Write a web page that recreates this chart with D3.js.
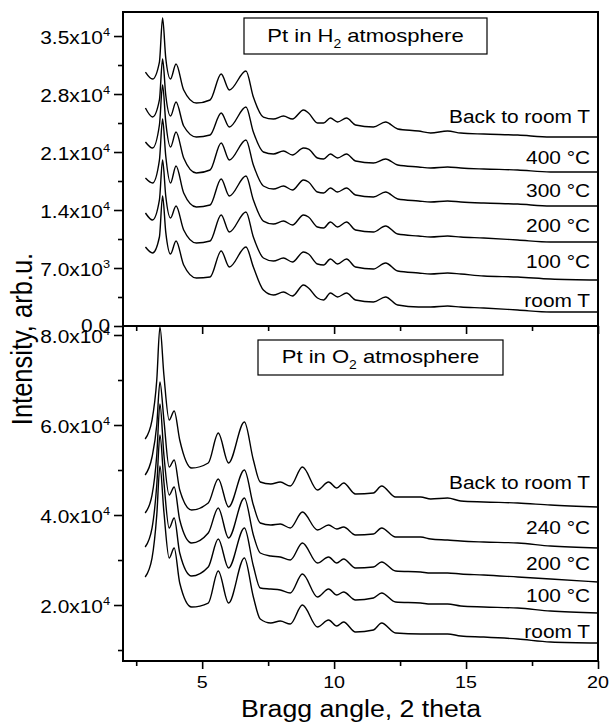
<!DOCTYPE html>
<html>
<head>
<meta charset="utf-8">
<script src="https://cdn.jsdelivr.net/npm/d3@7/dist/d3.min.js"></script>
<style>
  body { margin: 0; background: #fff; }
  svg text { font-family: "Liberation Sans", Arial, sans-serif; fill: #000; }
</style>
</head>
<body>
<svg id="chart" width="611" height="722"></svg>
<script>
// Bragg angle samples (2 theta), H2 panel
const braggTop = [2.85, 3.12, 3.38, 3.5, 3.62, 3.8, 4.01, 4.3, 4.78, 5.3, 5.72, 6.03, 6.66, 6.94, 7.32, 7.7, 8.08, 8.42, 8.84, 9.03, 9.37, 9.6, 9.86, 10.13, 10.47, 10.81, 11.49, 11.95, 12.41, 13.2, 13.66, 14.3, 14.8, 15.67, 16.96, 18.2, 20];

// Pt in H2 atmosphere, intensity (arb.u.)
const h2Back = [30650, 29810, 31860, 37170, 32350, 29810, 31620, 28480, 26910, 27280, 30410, 28480, 30780, 27640, 25220, 24980, 25340, 24980, 26070, 25710, 24500, 24500, 25100, 24620, 25100, 24260, 24020, 24620, 23780, 23530, 23290, 23530, 23290, 23170, 23050, 22810, 22810];
const h2T400 = [26310, 25220, 27280, 32220, 27880, 25340, 27030, 24140, 22810, 23050, 25710, 24020, 26430, 23410, 21000, 20760, 21120, 20640, 21480, 21360, 20280, 20160, 20760, 20280, 20760, 19910, 19670, 20160, 19430, 19190, 19070, 19190, 19070, 18950, 18830, 18590, 18590];
const h2T300 = [22210, 21480, 24260, 29090, 24620, 21600, 23410, 20280, 18470, 18830, 22090, 20030, 22450, 19430, 16900, 16530, 16900, 16410, 17620, 17380, 16170, 16050, 16660, 16170, 16660, 15810, 15570, 16170, 15330, 15090, 14970, 15090, 14970, 14840, 14720, 14480, 14480];
const h2T200 = [17860, 17260, 20030, 24980, 20520, 17260, 19310, 16050, 14360, 14600, 17740, 15690, 18100, 15210, 12670, 12310, 12670, 12190, 13400, 13160, 11950, 11830, 12550, 11950, 12550, 11590, 11340, 12070, 11100, 10860, 10740, 10860, 10740, 10620, 10380, 10140, 10140];
const h2T100 = [13640, 12790, 15210, 20030, 15690, 13030, 14480, 11590, 10020, 10260, 13400, 11340, 13760, 10740, 8210, 7840, 8210, 7720, 8930, 8690, 7480, 7360, 8090, 7480, 8090, 7120, 6880, 7600, 6640, 6400, 6280, 6400, 6280, 6030, 5910, 5670, 5550];
const h2Room = [9530, 8810, 10740, 15690, 11340, 8690, 10260, 7360, 5790, 5910, 9050, 7120, 9530, 7120, 4340, 3740, 4100, 3620, 4950, 4590, 3380, 3140, 3980, 3500, 3980, 3140, 2900, 3500, 2530, 2290, 2290, 2410, 2290, 2170, 1930, 1690, 1690];
const h2Labels = ["Back to room T", "400 °C", "300 °C", "200 °C", "100 °C", "room T"];
const h2LabelY = [24560, 19610, 15630, 11400, 7060, 2350];

// Bragg angle samples, O2 panel
const braggBot = [2.84, 3.1, 3.28, 3.4, 3.55, 3.75, 3.94, 4.15, 4.6, 5.23, 5.61, 6.0, 6.6, 6.94, 7.2, 7.6, 7.96, 8.34, 8.8, 9.37, 9.79, 10.1, 10.36, 10.81, 11.49, 11.8, 12.33, 13.28, 13.66, 14.3, 14.8, 15.67, 16.96, 18.2, 20];

// Pt in O2 atmosphere
const o2Back = [56890, 61110, 70000, 81780, 71110, 61110, 63110, 56670, 50440, 51560, 58220, 51560, 60670, 52220, 47330, 46890, 47330, 46440, 50670, 45560, 47330, 46000, 47110, 44670, 44890, 46440, 44000, 44000, 43560, 43780, 43110, 42890, 42670, 42220, 41780];
const o2T240 = [48890, 52890, 60000, 69560, 61110, 50670, 52220, 45560, 41110, 42670, 48000, 41780, 50000, 42220, 38220, 37780, 38000, 37110, 40670, 36670, 37780, 36890, 37330, 35560, 35780, 37110, 35110, 35110, 34670, 34440, 34220, 34000, 33780, 33110, 32670];
const o2T200 = [40440, 44440, 53330, 64670, 53330, 44440, 46220, 38890, 33780, 36000, 41560, 34890, 43780, 35560, 31560, 30890, 30670, 30000, 33780, 29330, 30670, 29330, 30220, 28220, 28440, 29560, 27560, 27330, 27110, 27110, 26890, 26670, 26220, 25780, 25110];
const o2T100 = [32890, 37110, 46670, 57780, 47330, 37110, 39330, 31560, 26440, 28440, 34670, 28220, 37110, 28670, 23780, 23560, 23330, 22670, 26890, 21780, 23560, 22220, 22890, 21110, 21560, 22670, 20670, 20440, 20220, 20220, 19780, 19560, 19330, 18670, 18220];
const o2Room = [26220, 30440, 40000, 50890, 40670, 30440, 32670, 24890, 19560, 20440, 27560, 20440, 30440, 21780, 16890, 16000, 16440, 15780, 20000, 15110, 16670, 15330, 16220, 14000, 14440, 16000, 13780, 13560, 13560, 13560, 13110, 12890, 12440, 11780, 11560];
const o2Labels = ["Back to room T", "240 °C", "200 °C", "100 °C", "room T"];
const o2LabelY = [45890, 35890, 27890, 20780, 12560];

// tick values
const xMajor = [5, 10, 15, 20];
const xMinor = [2.5, 7.5, 12.5, 17.5];
const yTopMajor = [0, 7000, 14000, 21000, 28000, 35000];
const yTopMinor = [3500, 10500, 17500, 24500, 31500];
const yBotMajor = [20000, 40000, 60000, 80000];
const yBotMinor = [10000, 30000, 50000, 70000];

const SX = 1.16; // the original is slightly stretched sideways

const svg = d3.select("#chart");
const plotL = 123, plotR = 598, plotT = 12, plotMid = 326, plotB = 661;

const x = d3.scaleLinear().domain([2, 20]).range([plotL, plotR]);
const yTop = d3.scaleLinear().domain([0, 37900]).range([plotMid, plotT]);
const yBot = d3.scaleLinear().domain([7560, 82000]).range([plotB, plotMid]);

function stext(g, px, py, size, anchor) {
  return g.append("text")
    .attr("transform", `translate(${px},${py}) scale(${SX},1)`)
    .attr("text-anchor", anchor)
    .style("font-size", size + "px");
}

function sci(v) {
  if (v === 0) return ["0.0", null];
  const e = Math.floor(Math.log10(v));
  return [(v / Math.pow(10, e)).toFixed(1) + "x10", e];
}

function drawPanel(y, xs, series, labels, labelY, major, minor, withXLabels, xAxisY) {
  const g = svg.append("g");

  // left axis
  g.append("g").attr("transform", `translate(${plotL},0)`)
    .call(d3.axisLeft(y).tickValues(minor).tickSize(5).tickSizeOuter(0).tickFormat(""))
    .call(a => a.select(".domain").remove());
  g.append("g").attr("transform", `translate(${plotL},0)`)
    .call(d3.axisLeft(y).tickValues(major).tickSize(9).tickSizeOuter(0).tickFormat(""))
    .call(a => a.select(".domain").remove());

  major.forEach(v => {
    const [m, e] = sci(v);
    const t = stext(g, 110, y(v) + (v === 0 ? 5.5 : 8), 18, "end");
    t.append("tspan").text(m);
    if (e !== null) t.append("tspan").attr("dy", -8).style("font-size", "11px").text(e);
  });

  // bottom axis of the panel
  g.append("g").attr("transform", `translate(0,${xAxisY})`)
    .call(d3.axisBottom(x).tickValues(xMinor).tickSize(5).tickSizeOuter(0).tickFormat(""))
    .call(a => a.select(".domain").remove());
  g.append("g").attr("transform", `translate(0,${xAxisY})`)
    .call(d3.axisBottom(x).tickValues(xMajor).tickSize(8).tickSizeOuter(0).tickFormat(""))
    .call(a => a.select(".domain").remove());

  if (withXLabels) {
    xMajor.forEach(v => stext(g, x(v), xAxisY + 27, 17, "middle").text(v));
  }

  g.selectAll(".tick line").attr("stroke", "#000").attr("stroke-width", 1.6);

  // curves
  const line = d3.line()
    .x((d, i) => x(xs[i]))
    .y(d => y(d))
    .curve(d3.curveMonotoneX);
  g.selectAll("path.curve").data(series).join("path")
    .attr("class", "curve")
    .attr("d", line)
    .attr("fill", "none")
    .attr("stroke", "#000")
    .attr("stroke-width", 1.4);

  labels.forEach((s, i) => stext(g, x(19.7), y(labelY[i]), 18, "end").text(s));
}

drawPanel(yTop, braggTop, [h2Back, h2T400, h2T300, h2T200, h2T100, h2Room],
  h2Labels, h2LabelY, yTopMajor, yTopMinor, false, plotMid);
drawPanel(yBot, braggBot, [o2Back, o2T240, o2T200, o2T100, o2Room],
  o2Labels, o2LabelY, yBotMajor, yBotMinor, true, plotB);

// frames
const frame = svg.append("g").attr("fill", "none").attr("stroke", "#000").attr("stroke-width", 2);
frame.append("rect").attr("x", plotL).attr("y", plotT).attr("width", plotR - plotL).attr("height", plotMid - plotT);
frame.append("rect").attr("x", plotL).attr("y", plotMid).attr("width", plotR - plotL).attr("height", plotB - plotMid);

// atmosphere boxes
function legendBox(bx, by, w, h, gas) {
  svg.append("rect").attr("x", bx).attr("y", by).attr("width", w).attr("height", h)
    .attr("fill", "#fff").attr("stroke", "#000").attr("stroke-width", 1.2);
  const t = stext(svg, bx + w / 2, by + h / 2 + 5.5, 19, "middle");
  t.append("tspan").text("Pt in " + gas[0]);
  t.append("tspan").attr("dy", 6).style("font-size", "12px").text(gas[1]);
  t.append("tspan").attr("dy", -6).text(" atmosphere");
}
legendBox(244, 18, 243, 36, ["H", "2"]);
legendBox(258, 340, 245, 35, ["O", "2"]);

// axis titles
stext(svg, 361, 717, 23, "middle").text("Bragg angle, 2 theta");
svg.append("text")
  .attr("transform", `translate(32,339) rotate(-90) scale(1,${SX})`)
  .attr("text-anchor", "middle")
  .style("font-size", "25.5px")
  .text("Intensity, arb.u.");
</script>
</body>
</html>
